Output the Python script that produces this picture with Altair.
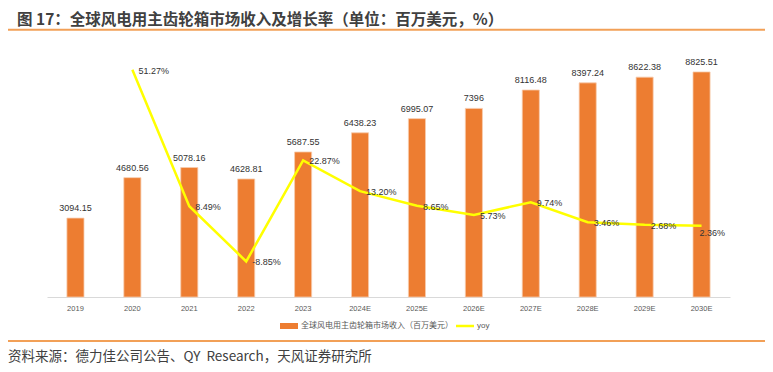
import altair as alt
import pandas as pd

categories = ["2019", "2020", "2021", "2022", "2023", "2024E", "2025E",
              "2026E", "2027E", "2028E", "2029E", "2030E"]
revenue = [3094.15, 4680.56, 5078.16, 4628.81, 5687.55, 6438.23, 6995.07,
           7396, 8116.48, 8397.24, 8622.38, 8825.51]
yoy_pct = [None, 51.27, 8.49, -8.85, 22.87, 13.20, 8.65, 5.73, 9.74, 3.46, 2.68, 2.36]
left_ticks = [0, 1000, 2000, 3000, 4000, 5000, 6000, 7000, 8000, 9000, 10000]
right_ticks = [-0.2, -0.1, 0, 0.1, 0.2, 0.3, 0.4, 0.5, 0.6]

title_text = "图 17：全球风电用主齿轮箱市场收入及增长率（单位：百万美元，%）"
source_text = "资料来源：德力佳公司公告、QY\u00a0 Research，天风证券研究所"
legend_bar = "全球风电用主齿轮箱市场收入（百万美元）"
legend_line = "yoy"

CJK = "Noto Sans CJK SC"
NUM = "Liberation Sans"
ORANGE = "#ED7D31"
YELLOW = "#FFFF00"

bar_df = pd.DataFrame({"year": categories, "revenue": revenue})
line_df = pd.DataFrame({
    "year": categories[1:],
    "yoy": [v / 100 for v in yoy_pct[1:]],
    "label": [f"{v:.2f}%" for v in yoy_pct[1:]],
})
deco = pd.DataFrame({"k": [0]})

x_enc = alt.X(
    "year:N", sort=categories,
    scale=alt.Scale(domain=categories, paddingInner=0, paddingOuter=0),
    axis=alt.Axis(title=None, labelAngle=0, ticks=False, grid=False,
                  domainColor="#d9d9d9", labelColor="#595959",
                  labelFontSize=7.5, labelFont=NUM, labelPadding=7),
)
left_scale = alt.Scale(domain=[0, 10000], nice=False, zero=False)
right_scale = alt.Scale(domain=[-0.2, 0.6], nice=False, zero=False)

bars = alt.Chart(bar_df).mark_bar(
    color=ORANGE, width=alt.RelativeBandSize(0.3), stroke="#F8CBAD", strokeWidth=0.8
).encode(
    x=x_enc,
    y=alt.Y("revenue:Q", scale=left_scale,
            axis=alt.Axis(orient="left", values=left_ticks, title=None, domain=False,
                          ticks=False, grid=False, labelColor="#595959",
                          labelFontSize=7.5, labelFont=NUM, labelPadding=5)),
)
bar_text = alt.Chart(bar_df).mark_text(
    dy=-10, fontSize=9, color="#333333", font=NUM, baseline="middle"
).encode(
    x=x_enc,
    y=alt.Y("revenue:Q", scale=left_scale, axis=None),
    text=alt.Text("revenue:Q", format=".2~f"),
)

right_label_expr = ("datum.value < 0 ? '-' + format(-datum.value, '.1f') : "
                    "(datum.value == 0 ? '0' : format(datum.value, '.1f'))")
line = alt.Chart(line_df).mark_line(color=YELLOW, strokeWidth=2.5).encode(
    x=x_enc,
    y=alt.Y("yoy:Q", scale=right_scale,
            axis=alt.Axis(orient="right", values=right_ticks, title=None, domain=False,
                          ticks=False, grid=False, labelColor="#595959",
                          labelFontSize=7.5, labelFont=NUM, labelPadding=5,
                          labelExpr=right_label_expr)),
)
line_text = alt.Chart(line_df).transform_filter(
    alt.datum.year != "2030E"
).mark_text(
    align="left", baseline="middle", dx=6, dy=1, fontSize=9, color="#333333", font=NUM
).encode(
    x=x_enc,
    y=alt.Y("yoy:Q", scale=right_scale, axis=None),
    text="label:N",
)
line_text_last = alt.Chart(line_df).transform_filter(
    alt.datum.year == "2030E"
).mark_text(
    align="left", baseline="middle", dx=-2, dy=7, fontSize=9, color="#333333", font=NUM
).encode(
    x=x_enc,
    y=alt.Y("yoy:Q", scale=right_scale, axis=None),
    text="label:N",
)

left_group = alt.layer(bars, bar_text)
right_group = alt.layer(line, line_text, line_text_last)

base = alt.Chart(deco)
title = base.mark_text(align="left", baseline="middle", fontSize=15.5, fontWeight="bold",
                       color="#404040", font=CJK).encode(
    x=alt.value(-30), y=alt.value(-22.5), text=alt.value(title_text))
top_rule = base.mark_rule(color="#F2A057", strokeWidth=2).encode(
    x=alt.value(-39), x2=alt.value(718), y=alt.value(-12.3))
bottom_rule = base.mark_rule(color="#F2A057", strokeWidth=2).encode(
    x=alt.value(-39), x2=alt.value(718), y=alt.value(299))
source = base.mark_text(align="left", baseline="middle", fontSize=13.5,
                        color="#404040", font=CJK).encode(
    x=alt.value(-39), y=alt.value(315), text=alt.value(source_text))
leg_rect = base.mark_rect(color=ORANGE).encode(
    x=alt.value(233), x2=alt.value(251), y=alt.value(281), y2=alt.value(287))
leg_text = base.mark_text(align="left", baseline="middle", fontSize=8,
                          color="#595959", font=CJK).encode(
    x=alt.value(254), y=alt.value(284), text=alt.value(legend_bar))
leg_line = base.mark_rule(color=YELLOW, strokeWidth=2.5).encode(
    x=alt.value(409), x2=alt.value(427), y=alt.value(284))
leg_line_text = base.mark_text(align="left", baseline="middle", fontSize=8,
                               color="#595959", font=NUM).encode(
    x=alt.value(430), y=alt.value(284), text=alt.value(legend_line))

chart = alt.layer(
    left_group, right_group, title, top_rule, bottom_rule, source,
    leg_rect, leg_text, leg_line, leg_line_text
).resolve_scale(y="independent").properties(
    width=683, height=255,
    autosize=alt.AutoSizeParams(type="none"),
    padding={"left": 39, "top": 34, "right": 35, "bottom": 67},
    background="white",
).configure_view(stroke=None)

chart.save("out.html", embed_options={"renderer": "svg", "actions": False})
